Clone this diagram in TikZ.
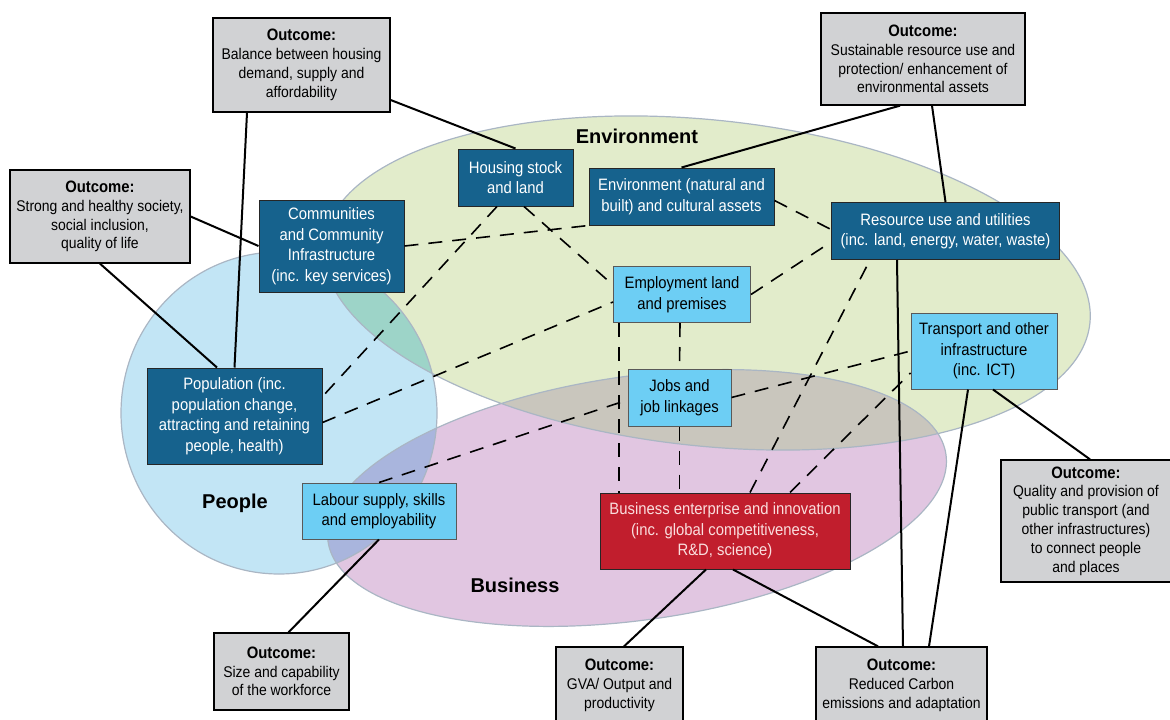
\documentclass[tikz,border=0pt]{standalone}
\usepackage{fontspec}
\setmainfont{Liberation Sans}[FakeStretch=0.9]
\newfontfamily\regionfont{Liberation Sans}
\usepackage{tikz}
\usetikzlibrary{positioning}

\definecolor{outgray}{RGB}{209,210,212}
\definecolor{darkblue}{RGB}{22,98,141}
\definecolor{lightblue}{RGB}{109,206,244}
\definecolor{bizred}{RGB}{193,30,45}
\definecolor{redtext}{RGB}{250,222,222}
\definecolor{envgreen}{RGB}{226,236,203}
\definecolor{peopleblue}{RGB}{194,229,245}
\definecolor{bizpink}{RGB}{225,198,225}
\definecolor{envpeople}{RGB}{157,212,200}
\definecolor{peoplebiz}{RGB}{169,181,221}
\definecolor{envbiz}{RGB}{201,198,189}
\definecolor{rim}{RGB}{170,182,196}

\newcommand\outhead{{\fontsize{16.5}{19}\selectfont\bfseries Outcome:}}
\newcommand\envpath{(707,283) ellipse [x radius=385, y radius=163, rotate=-6]}
\newcommand\peoplepath{(279,413) ellipse [x radius=158, y radius=161]}
\newcommand\bizpath{(637,498) ellipse [x radius=312, y radius=122, rotate=8]}

\begin{document}
\begin{tikzpicture}[
    x=1pt,
    y=-1pt,
    box/.style = {
      draw,
      rectangle,
      align = center,
      inner sep = 0pt,
      line width = 1pt,
      font = \fontsize{16.5}{20.5}\selectfont
    },
    outcome/.style = {
      box,
      fill = outgray,
      line width = 1.3pt,
      font = \fontsize{15.5}{18.8}\selectfont
    },
    darkbox/.style = {box, fill = darkblue, draw = black!85, text = white},
    lightbox/.style = {box, fill = lightblue, draw = black!65, text = black},
    redbox/.style = {box, fill = bizred, draw = black!85, text = redtext},
    region/.style = {font = \regionfont\fontsize{20}{24}\selectfont\bfseries},
    link/.style = {line width = 2pt},
    weak/.style = {line width = 1.6pt, dash pattern = on 14pt off 10pt}
  ]
  \useasboundingbox (0,0) rectangle (1170,720);

  % the three spheres
  \fill[peopleblue] \peoplepath;
  \fill[envgreen] \envpath;
  \fill[bizpink] \bizpath;
  \begin{scope}
    \clip \peoplepath;
    \fill[envpeople] \envpath;
    \fill[peoplebiz] \bizpath;
  \end{scope}
  \begin{scope}
    \clip \envpath;
    \fill[envbiz] \bizpath;
  \end{scope}
  \draw[rim, line width=1.2pt] \peoplepath \envpath \bizpath;

  \node[region] (envlabel) at (637,136) {Environment};
  \node[region] (peoplelabel) at (235,503) {People};
  \node[region] (bizlabel) at (515,585) {Business};

  % outcomes
  \node[outcome, minimum width=177pt, minimum height=94pt] (ohousing) at (301.5,65)
    {\outhead\\Balance between housing\\demand, supply and\\affordability};
  \node[outcome, minimum width=180pt, minimum height=93pt] (osociety) at (100,216.5)
    {\outhead\\Strong and healthy society,\\social inclusion,\\quality of life};
  \node[outcome, minimum width=204pt, minimum height=92pt] (oenv) at (923,59)
    {\outhead\\Sustainable resource use and\\protection/ enhancement of\\environmental assets};
  \node[outcome, minimum width=170pt, minimum height=122pt] (otransport) at (1086,521)
    {\outhead\\Quality and provision of\\public transport (and\\other infrastructures)\\to connect people\\and places};
  \node[outcome, minimum width=135pt, minimum height=77pt] (oworkforce) at (281.5,671.5)
    {\outhead\\Size and capability\\of the workforce};
  \node[outcome, minimum width=127pt, minimum height=77pt] (ogva) at (619.5,685.5)
    {\outhead\\GVA/ Output and\\productivity};
  \node[outcome, minimum width=171pt, minimum height=77pt] (ocarbon) at (901.5,685.5)
    {\outhead\\Reduced Carbon\\emissions and adaptation};

  % themes
  \node[darkbox, minimum width=115pt, minimum height=57pt] (housing) at (515.5,177.5)
    {Housing stock\\and land};
  \node[darkbox, minimum width=185pt, minimum height=57pt] (envassets) at (681.5,196.5)
    {Environment (natural and\\built) and cultural assets};
  \node[darkbox, minimum width=145pt, minimum height=92pt] (communities) at (331.5,246)
    {Communities\\and Community\\Infrastructure\\(inc. key services)};
  \node[darkbox, minimum width=228pt, minimum height=57pt] (resource) at (945.5,231)
    {Resource use and utilities\\(inc. land, energy, water, waste)};
  \node[darkbox, minimum width=175pt, minimum height=96pt] (population) at (234.5,416)
    {Population (inc.\\population change,\\attracting and retaining\\people, health)};
  \node[lightbox, minimum width=137pt, minimum height=56pt] (employment) at (682,294.5)
    {Employment land\\and premises};
  \node[lightbox, minimum width=146pt, minimum height=76pt] (transport) at (984,351)
    {Transport and other\\infrastructure\\(inc. ICT)};
  \node[lightbox, minimum width=103pt, minimum height=57pt] (jobs) at (679.5,397.5)
    {Jobs and\\job linkages};
  \node[lightbox, minimum width=154pt, minimum height=56pt] (labour) at (379,511)
    {Labour supply, skills\\and employability};
  \node[redbox, minimum width=250pt, minimum height=76pt] (business) at (725,531)
    {Business enterprise and innovation\\(inc. global competitiveness,\\R\&D, science)};

  % links to outcomes
  \draw[link] ([xshift=-54.5pt]ohousing.south) -- (population.north);
  \draw[link] ([yshift=-35pt]ohousing.east) -- (housing.north);
  \draw[link] (osociety.east) -- (communities.west);
  \draw[link] (osociety.south) -- ([xshift=-17.5pt]population.north);
  \draw[link] ([xshift=-23pt]oenv.south) -- (envassets.north);
  \draw[link] ([xshift=9pt]oenv.south) -- (resource.north);
  \draw[link] ([xshift=-48.5pt]resource.south) -- ([xshift=1.5pt]ocarbon.north);
  \draw[link] ([xshift=-16pt]transport.south) -- ([xshift=27.5pt]ocarbon.north);
  \draw[link] ([xshift=9pt]transport.south) -- ([xshift=4pt]otransport.north);
  \draw[link] (labour.south) -- ([xshift=7pt]oworkforce.north);
  \draw[link] ([xshift=-19pt]business.south) -- ([xshift=4.5pt]ogva.north);
  \draw[link] ([xshift=8pt]business.south) -- ([xshift=-23.5pt]ocarbon.north);

  % links between themes
  \draw[weak] ([xshift=-18.5pt]housing.south) -- ([yshift=19.5pt]population.east);
  \draw[weak] ([xshift=8.5pt]housing.south) -- ([yshift=9.5pt]employment.west);
  \draw[weak] (communities.east) -- (envassets.south west);
  \draw[weak] ([yshift=-4pt]envassets.east) -- ([yshift=1.5pt]resource.west);
  \draw[weak] (employment.east) -- ([yshift=-11pt]resource.west);
  \draw[weak] ([yshift=-6.5pt]population.east) -- ([yshift=-7.5pt]employment.west);
  \draw[weak] ([xshift=-63pt]employment.south) -- ([xshift=-106pt]business.north);
  \draw[weak] ([xshift=-2pt]employment.south) -- (jobs.north);
  \draw[weak] (jobs.south) -- ([xshift=-45.5pt]business.north);
  \draw[weak] (labour.north) -- ([yshift=-2.5pt]jobs.west);
  \draw[weak] (jobs.east) -- (transport.west);
  \draw[weak] ([xshift=25pt]business.north) -- ([xshift=-75.5pt]resource.south);
  \draw[weak] ([xshift=65pt]business.north) -- ([yshift=-22pt]transport.west);
\end{tikzpicture}
\end{document}
